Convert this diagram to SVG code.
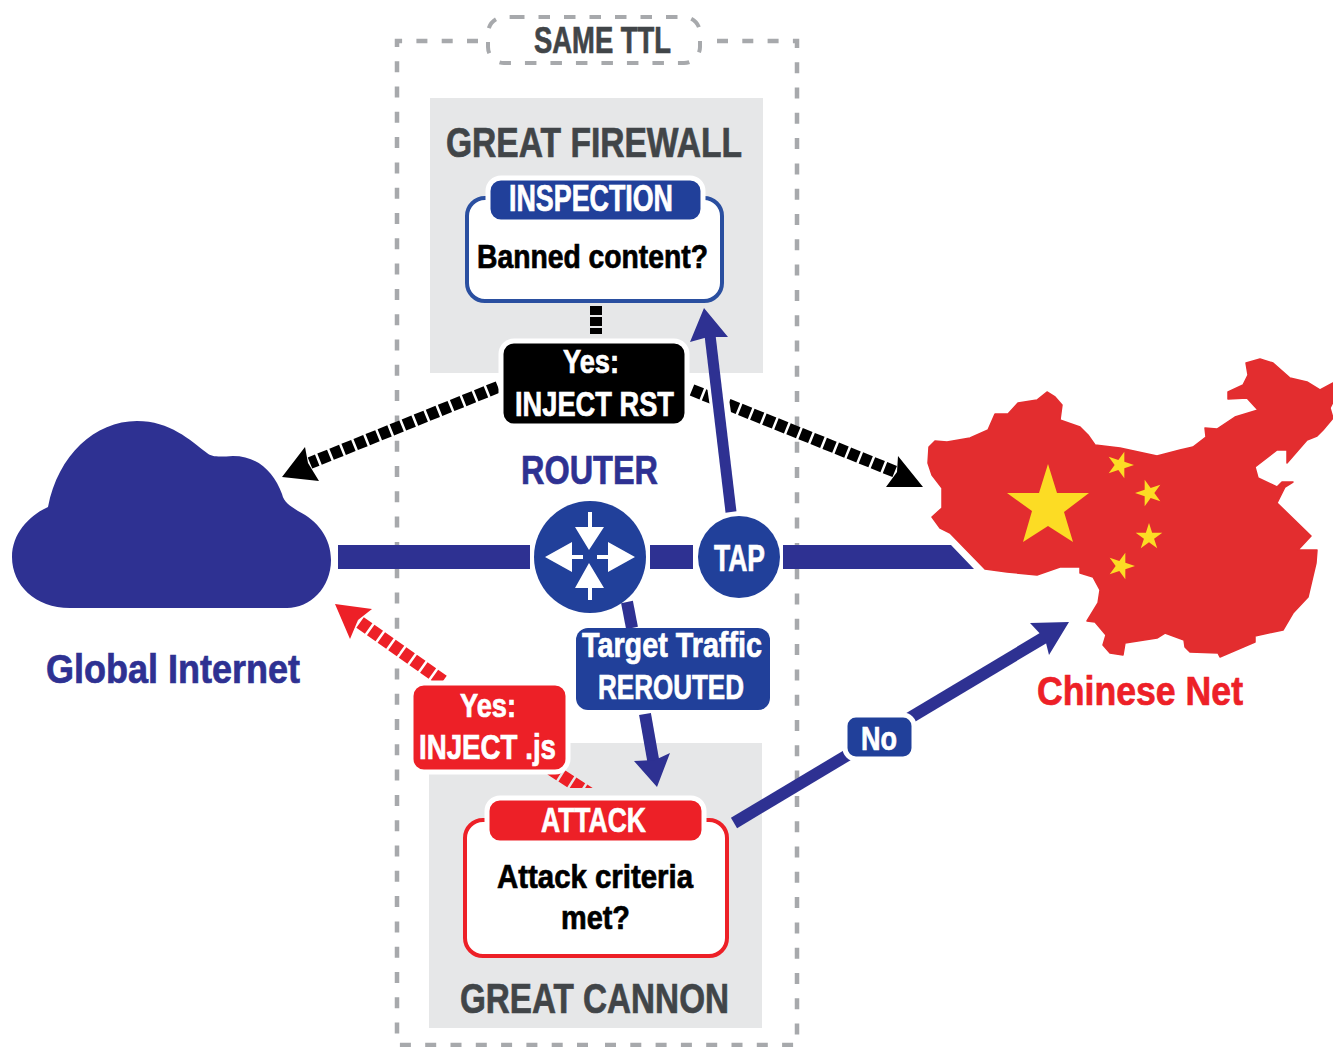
<svg xmlns="http://www.w3.org/2000/svg" width="1333" height="1047" viewBox="0 0 1333 1047">
<defs><style>
text{font-family:"Liberation Sans",Arial,sans-serif;font-weight:700;text-anchor:start;stroke-width:.7}
.w{fill:#fff}.k{fill:#000}.navy{fill:#2e3192}.red{fill:#ed2027}.gr{fill:#414548}
text.w{stroke:#fff}text.k{stroke:#000}text.navy{stroke:#2e3192}text.red{stroke:#ed2027}text.gr{stroke:#414548}
.panel{fill:#e6e7e8}.dash{fill:none;stroke:#a7a9ac;stroke-width:4.5;stroke-dasharray:11 14.3}
.blue{fill:#21409a}.halo{stroke:#fff;stroke-width:5}
.bk{fill:none;stroke:#000;stroke-width:12;stroke-dasharray:10.5 2.5}
.rd{fill:none;stroke:#ed2027;stroke-width:13;stroke-dasharray:10.5 2.5}
.ln{fill:none;stroke:#2e3192;stroke-width:12}
.star{fill:#fcdc24}
</style>
<path id="s" d="M0,-1L.225,-.309L.951,-.309L.363,.118L.588,.809L0,.382L-.588,.809L-.363,.118L-.951,-.309L-.225,-.309Z"/>
<clipPath id="above-attack"><rect x="500" y="740" width="120" height="48"/></clipPath>
</defs>
<rect width="1333" height="1047" fill="#fff"/>
<g id="same-ttl-frame">
<path class="dash" d="M478,41H397V1045H597"/>
<path class="dash" d="M717,41H797V1045H597"/>
<path class="dash" style="stroke-width:4;stroke-dasharray:11.5 14" d="M513,17H684A16,16 0 0 1 700,33V47A16,16 0 0 1 684,63H504A16,16 0 0 1 488,47V33A16,16 0 0 1 504,17Z"/>
<text class="gr" x="534" y="53" font-size="37" textLength="137" lengthAdjust="spacingAndGlyphs">SAME TTL</text>
</g>
<g id="great-firewall">
<rect class="panel" x="430" y="98" width="333" height="275"/>
<text class="gr" x="446" y="157" font-size="42" textLength="296" lengthAdjust="spacingAndGlyphs">GREAT FIREWALL</text>
</g>
<g id="great-cannon">
<rect class="panel" x="429" y="743" width="333" height="285"/>
<text class="gr" x="460" y="1013" font-size="42" textLength="269" lengthAdjust="spacingAndGlyphs">GREAT CANNON</text>
</g>
<g id="connectors">
<path d="M338,545H530V569H338ZM650,545H693V569H650ZM783,545H951L974,569H783Z" fill="#2e3192"/>
<path class="bk" style="stroke-dasharray:9 2" d="M596,306V334"/>
<path class="bk" d="M498,387L310,463"/>
<path d="M282,477L305,447L308,463L319,481Z" fill="#000"/>
<path class="bk" d="M692,390L896,472"/>
<path d="M923,487L886,487L897,472L898,456Z" fill="#000"/>
<path d="M722,420L717,386" fill="none" stroke="#fff" stroke-width="20"/>
<path class="ln" style="stroke-width:11" d="M731,512L710,335"/>
<path d="M704,308L728,337L708,337L690,342Z" fill="#2e3192"/>
<path class="rd" d="M443,681L358,621"/>
<path d="M335,604L372,609L358,620L350,639Z" fill="#ed2027"/>
<path class="rd" clip-path="url(#above-attack)" d="M540,762L590,794"/>
<path class="ln" d="M627,602L632,628"/>
<path class="ln" d="M645,714L654,765"/>
<path d="M657,787L634,761L655,760L670,753Z" fill="#2e3192"/>
<path class="ln" d="M734,823L1045,637"/>
<path d="M1069,622L1049,655L1045,639L1030,623Z" fill="#2e3192"/>
</g>
<g id="global-internet">
<path d="M70,608C35,608 12,585 12,557C12,533 30,515 48,507C58,455 95,421 137,421C170,421 190,440 207,453C212,457 218,457 233,456C258,456 274,472 282,494C284,503 292,507 298,511C318,521 331,538 331,560C331,588 310,608 287,608Z" fill="#2e3192"/>
<text class="navy" x="46" y="683" font-size="41" textLength="254" lengthAdjust="spacingAndGlyphs">Global Internet</text>
</g>
<g id="chinese-net">
<path fill="#e32d2f" stroke="#e32d2f" stroke-width="1.5" stroke-linejoin="round" d="M929,447L935,441L947,442L970,438L988,430L995,414L1008,414L1018,403L1037,400L1047,392L1055,397L1062,405L1060,420L1080,427L1088,435L1095,445L1120,448L1157,456L1180,450L1193,447L1206,437L1205,428L1217,429L1235,417L1258,410L1247,398L1228,399L1228,392L1243,385L1248,375L1246,363L1260,359L1273,363L1290,378L1307,382L1320,390L1333,383L1333,402L1330,408L1333,418L1323,430L1317,436L1307,440L1287,463L1287,450L1277,450L1255,467L1258,478L1277,487L1282,482L1293,482L1285,487L1277,503L1311,536L1298,550L1317,550L1316,563L1308,597L1293,613L1283,630L1255,636L1255,642L1220,657L1218,653L1190,652L1185,647L1184,640L1165,633L1157,638L1125,643L1123,655L1110,653L1103,645L1106,635L1095,622L1087,621L1098,603L1100,590L1093,577L1080,573L1080,567L1060,567L1037,575L1007,572L985,569L950,533L940,528L932,517L942,508L942,488L932,475L928,463Z"/>
<path class="star" d="M1048,464L1057,493L1089,493L1064,512L1073,542L1048,526L1023,542L1032,511L1007,493L1039,493Z"/>
<use href="#s" class="star" transform="translate(1120,465) rotate(18) scale(14)"/>
<use href="#s" class="star" transform="translate(1149,493) rotate(-18) scale(14)"/>
<use href="#s" class="star" transform="translate(1149,537) scale(14)"/>
<use href="#s" class="star" transform="translate(1121,566) rotate(18) scale(14)"/>
<text class="red" x="1037" y="705" font-size="41" textLength="206" lengthAdjust="spacingAndGlyphs">Chinese Net</text>
</g>
<g id="inspection">
<rect x="467" y="198" width="255" height="103" rx="18" fill="#fff" stroke="#2a4fa0" stroke-width="4"/>
<rect class="blue halo" x="488" y="178" width="215" height="44" rx="13"/>
<text class="w" x="509" y="211" font-size="36" textLength="164" lengthAdjust="spacingAndGlyphs">INSPECTION</text>
<text class="k" x="477" y="268" font-size="33" textLength="231" lengthAdjust="spacingAndGlyphs">Banned content?</text>
</g>
<g id="inject-rst">
<rect class="k halo" x="501" y="341" width="186" height="85" rx="13"/>
<text class="w" x="563" y="373" font-size="33" textLength="56" lengthAdjust="spacingAndGlyphs">Yes:</text>
<text class="w" x="515" y="416" font-size="35" textLength="159" lengthAdjust="spacingAndGlyphs">INJECT RST</text>
</g>
<g id="router">
<text class="navy" x="521" y="484" font-size="41" textLength="137" lengthAdjust="spacingAndGlyphs">ROUTER</text>
<circle class="blue" cx="590" cy="557" r="56"/>
<path class="w" d="M588,512H592V527H604L589,550L575,527H588ZM588,600H592V588H604L589,563L575,588H588ZM583,555V559H572V572L545,557L572,542V555ZM597,555V559H608V572L635,557L608,542V555Z"/>
</g>
<g id="tap">
<circle class="blue" cx="739" cy="557" r="41"/>
<text class="w" x="714" y="571" font-size="37" textLength="51" lengthAdjust="spacingAndGlyphs">TAP</text>
</g>
<g id="target-traffic">
<rect class="blue" x="576" y="628" width="194" height="82" rx="12"/>
<text class="w" x="582" y="657" font-size="35" textLength="180" lengthAdjust="spacingAndGlyphs">Target Traffic</text>
<text class="w" x="598" y="699" font-size="35" textLength="146" lengthAdjust="spacingAndGlyphs">REROUTED</text>
</g>
<g id="inject-js">
<rect class="red halo" x="411" y="683" width="157" height="89" rx="13"/>
<text class="w" x="460" y="717" font-size="33" textLength="56" lengthAdjust="spacingAndGlyphs">Yes:</text>
<text class="w" x="419" y="759" font-size="35" textLength="137" lengthAdjust="spacingAndGlyphs">INJECT .js</text>
</g>
<g id="no-label">
<rect class="blue halo" x="845" y="715" width="69" height="44" rx="11"/>
<text class="w" x="861" y="750" font-size="33" textLength="36" lengthAdjust="spacingAndGlyphs">No</text>
</g>
<g id="attack">
<rect x="465" y="820" width="262" height="136" rx="18" fill="#fff" stroke="#ed2027" stroke-width="4"/>
<rect class="red halo" x="487" y="798" width="217" height="45" rx="13"/>
<text class="w" x="541" y="832" font-size="35" textLength="105" lengthAdjust="spacingAndGlyphs">ATTACK</text>
<text class="k" x="497" y="888" font-size="33" textLength="196" lengthAdjust="spacingAndGlyphs">Attack criteria</text>
<text class="k" x="561" y="929" font-size="33" textLength="69" lengthAdjust="spacingAndGlyphs">met?</text>
</g>
</svg>
